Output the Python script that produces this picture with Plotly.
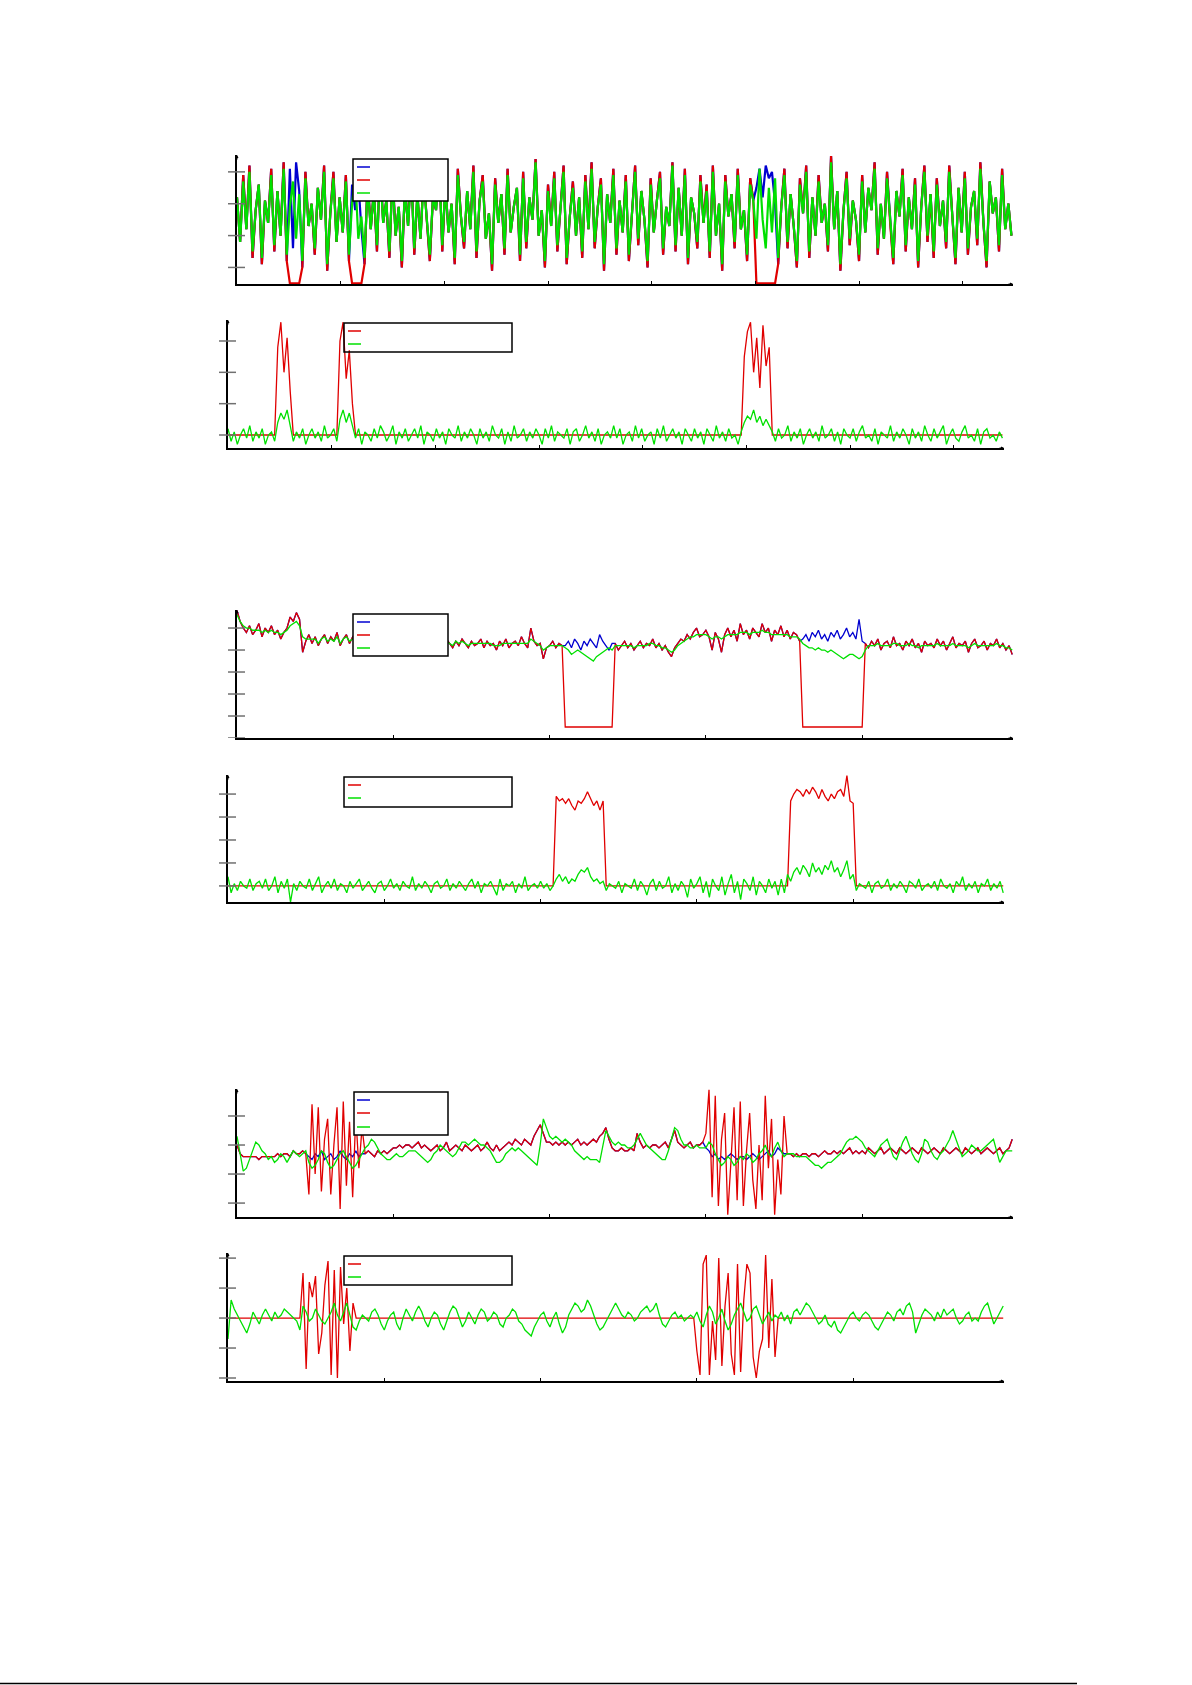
import plotly.graph_objects as go

W, H = 1192, 1685

# ---------------- data ----------------
# Panel 1 : three noisy estimates (blue / red / green), sample step 6
p1_blue = [22,8,29,12,32,3,18,26,1,21,14,31,5,24,10,33,2,31,6,33,24,0,30,13,20,
           4,25,15,32,-1,17,30,8,22,11,29,2,26,18,27,12,1,28,12,24,5,33,14,21,3,
           30,10,19,0,25,13,32,4,23,9,29,15,2,22,18,34,5,26,11,20,1,31,16,6,24,
           12,32,3,21,29,9,17,-1,28,14,23,4,31,11,19,25,2,30,6,22,15,34,10,18,0,
           26,13,30,5,20,32,1,16,27,10,22,3,29,12,33,6,19,28,-1,23,14,31,4,21,11,
           29,2,18,32,7,24,15,0,28,11,21,30,4,19,13,33,5,25,10,31,1,22,17,6,29,
           14,26,3,32,10,20,-1,29,16,23,6,31,12,18,2,28,21,25,31,22,32,28,30,20,1,
           19,31,6,23,13,0,28,17,32,3,22,10,29,14,20,5,35,12,24,-1,18,30,7,21,15,
           2,29,11,25,18,33,4,20,9,30,14,1,24,16,31,5,22,12,28,0,19,32,8,23,3,
           28,13,21,6,32,16,1,25,11,30,4,19,24,7,33,14,0,27,17,22,5,31,12,20,10]
p1_red = [22,8,29,12,32,3,18,26,1,21,14,31,5,24,10,33,2,-5,-5,-5,-5,0,30,13,20,
          4,25,15,32,-1,17,30,8,22,11,29,2,-5,-5,-5,-5,1,28,12,24,5,33,14,21,3,
          30,10,19,0,25,13,32,4,23,9,29,15,2,22,18,34,5,26,11,20,1,31,16,6,24,
          12,32,3,21,29,9,17,-1,28,14,23,4,31,11,19,25,2,30,6,22,15,34,10,18,0,
          26,13,30,5,20,32,1,16,27,10,22,3,29,12,33,6,19,28,-1,23,14,31,4,21,11,
          29,2,18,32,7,24,15,0,28,11,21,30,4,19,13,33,5,25,10,31,1,22,17,6,29,
          14,26,3,32,10,20,-1,29,16,23,6,31,12,18,2,28,21,-5,-5,-5,-5,-5,-5,-5,1,
          19,31,6,23,13,0,28,17,32,3,22,10,29,14,20,5,35,12,24,-1,18,30,7,21,15,
          2,29,11,25,18,33,4,20,9,30,14,1,24,16,31,5,22,12,28,0,19,32,8,23,3,
          28,13,21,6,32,16,1,25,11,30,4,19,24,7,33,14,0,27,17,22,5,31,12,20,10]
p1_green = [22,8,27,12,30,5,18,26,3,21,14,29,7,24,10,31,4,19,27,9,23,2,28,13,20,
            6,25,15,30,1,17,28,8,22,11,27,4,20,29,9,16,3,26,12,24,7,31,14,21,5,
            28,10,19,2,25,13,30,6,23,9,27,15,4,22,18,32,7,26,11,20,3,29,16,8,24,
            12,30,5,21,27,9,17,1,26,14,23,6,29,11,19,25,4,28,8,22,15,33,10,18,2,
            24,13,28,7,20,30,3,16,25,10,22,5,27,12,31,8,19,26,1,23,14,29,6,21,11,
            27,4,18,30,9,24,15,2,26,11,21,28,6,19,13,32,7,25,10,29,3,22,17,8,27,
            14,24,5,30,10,20,1,27,16,23,8,29,12,18,4,26,21,9,31,15,6,25,11,28,3,
            19,29,8,23,13,2,26,17,30,5,22,10,27,14,20,7,33,12,24,1,18,28,9,21,15,
            4,27,11,25,18,31,6,20,9,28,14,3,24,16,29,7,22,12,26,2,19,30,10,23,5,
            26,13,21,8,30,16,3,25,11,28,6,19,24,9,31,14,2,27,17,22,7,29,12,20,10]

# Panel 2 : two error curves (red / green), sample step 6
p2_red = [0,0,0,0,0,0,0,0,0,0,0,0,0,0,0,0,28,36,20,31,14,0,0,0,0,
          0,0,0,0,0,0,0,0,0,0,0,30,36,18,27,10,0,0,0,0,0,0,0,0,0,
          0,0,0,0,0,0,0,0,0,0,0,0,0,0,0,0,0,0,0,0,0,0,0,0,0,
          0,0,0,0,0,0,0,0,0,0,0,0,0,0,0,0,0,0,0,0,0,0,0,0,0,
          0,0,0,0,0,0,0,0,0,0,0,0,0,0,0,0,0,0,0,0,0,0,0,0,0,
          0,0,0,0,0,0,0,0,0,0,0,0,0,0,0,0,0,0,0,0,0,0,0,0,0,
          0,0,0,0,0,0,0,0,0,0,0,0,0,0,0,0,25,33,36,20,31,15,35,22,28,
          0,0,0,0,0,0,0,0,0,0,0,0,0,0,0,0,0,0,0,0,0,0,0,0,0,
          0,0,0,0,0,0,0,0,0,0,0,0,0,0,0,0,0,0,0,0,0,0,0,0,0,
          0,0,0,0,0,0,0,0,0,0,0,0,0,0,0,0,0,0,0,0,0,0,0,0,0]
p2_green = [2,-2,1,-3,0,2,-1,3,-2,1,-1,2,-3,0,1,-2,4,7,5,8,3,-2,1,-1,2,
            -3,0,2,-1,1,-2,3,-1,0,2,-2,5,8,4,7,3,-1,2,-3,1,0,-2,2,-1,3,
            1,-2,0,3,-3,1,-1,2,-2,0,2,-1,3,-3,1,0,-2,2,-1,1,-3,2,0,-1,3,
            -2,1,-1,2,0,-3,2,-1,1,-2,3,0,-1,2,-3,1,-2,3,-1,0,2,-2,1,-1,2,
            0,-3,2,-1,3,-2,1,0,-1,2,-3,1,2,-2,0,3,-1,1,-2,2,-3,0,1,-1,3,
            -1,2,-3,0,1,-2,3,-1,2,-2,0,1,-3,2,-1,3,-2,0,2,-1,1,-3,2,0,-2,
            2,-1,1,-3,2,0,-2,3,-1,1,-2,2,-1,0,-3,1,4,6,5,8,4,6,3,5,3,
            1,-2,2,-1,0,3,-2,1,-1,2,-3,0,2,-1,1,-2,3,-1,0,2,-2,1,-3,2,0,
            -1,2,-2,1,3,-1,0,-2,2,-3,1,0,-1,3,-2,1,-1,2,0,-3,2,-1,1,-2,3,
            0,-2,2,-1,1,3,-3,0,2,-1,-2,1,3,-1,0,-2,2,-3,1,2,-1,0,-2,1,-1]

# Panel 3 : three estimates, sample step 4
p3_blue = [58,53,50,48,51,47,49,52,46,50,48,51,47,49,45,48,50,55,53,57,54,39,44,47,43,
           46,42,45,47,43,46,44,48,42,45,47,43,46,44,45,43,47,44,46,42,45,44,47,43,45,
           44,46,42,45,43,47,44,42,46,43,45,44,41,46,43,44,42,45,43,41,44,42,45,43,41,
           44,42,43,45,41,44,42,43,40,44,42,45,41,43,44,42,46,43,41,50,44,42,43,36,41,
           42,44,41,43,42,42,44,41,45,43,40,44,42,45,43,41,47,44,42,40,43,43,40,42,44,
           41,43,40,42,44,41,43,42,45,41,43,40,42,39,37,41,43,45,44,47,45,48,50,46,47,
           49,46,40,48,45,39,47,50,46,49,44,52,47,49,45,50,48,46,52,48,50,44,49,47,51,
           46,49,45,48,47,44,45,47,44,48,46,49,45,47,44,48,46,49,45,47,50,46,48,45,54,
           44,43,41,44,42,45,40,43,44,41,46,42,43,40,44,42,45,41,43,39,44,42,43,41,45,
           42,44,40,43,46,41,43,42,44,39,43,45,41,42,44,40,43,42,45,41,43,40,42,38]
p3_red = [58,53,50,48,51,47,49,52,46,50,48,51,47,49,45,48,50,55,53,57,54,39,44,47,43,
          46,42,45,47,43,46,44,48,42,45,47,43,46,44,45,43,47,44,46,42,45,44,47,43,45,
          44,46,42,45,43,47,44,42,46,43,45,44,41,46,43,44,42,45,43,41,44,42,45,43,41,
          44,42,43,45,41,44,42,43,40,44,42,45,41,43,44,42,46,43,41,50,44,42,43,36,41,
          42,44,41,43,42,5,5,5,5,5,5,5,5,5,5,5,5,5,5,5,5,43,40,42,44,
          41,43,40,42,44,41,43,42,45,41,43,40,42,39,37,41,43,45,44,47,45,48,50,46,47,
          49,46,40,48,45,39,47,50,46,49,44,52,47,49,45,50,48,46,52,48,50,44,49,47,51,
          46,49,45,48,47,44,5,5,5,5,5,5,5,5,5,5,5,5,5,5,5,5,5,5,5,
          5,43,41,44,42,45,40,43,44,41,46,42,43,40,44,42,45,41,43,39,44,42,43,41,45,
          42,44,40,43,46,41,43,42,44,39,43,45,41,42,44,40,43,42,45,41,43,40,42,38]
p3_green = [56,53,51,50,50,49,49,49,48,49,48,49,48,48,47,48,49,51,52,53,51,46,45,45,45,
            45,43,45,46,44,45,44,46,43,45,46,44,45,44,45,44,46,44,45,43,45,44,46,44,45,
            45,45,43,44,44,46,44,43,45,44,44,44,42,45,43,44,43,44,43,42,44,43,44,43,42,
            43,43,43,43,43,43,43,42,42,42,43,43,43,43,43,43,43,43,43,45,44,43,42,40,41,
            42,42,42,42,42,41,40,38,39,40,39,38,37,36,35,37,38,39,40,41,40,42,42,42,42,
            42,42,41,42,42,42,42,43,43,42,42,41,41,40,39,40,42,43,44,45,46,46,47,47,47,
            47,46,45,46,46,45,46,47,47,47,47,48,48,48,47,48,48,48,49,48,48,47,47,47,47,
            47,47,46,46,46,45,43,42,41,41,40,41,40,40,39,40,39,38,37,36,37,38,38,37,36,
            37,40,42,42,42,43,42,42,42,42,43,43,42,42,42,43,42,42,41,42,42,42,42,42,43,
            42,42,42,42,43,42,42,42,42,41,42,43,42,42,42,42,42,42,43,42,42,41,41,40]

# Panel 4 : two error curves, sample step 4
p4_red = [0,0,0,0,0,0,0,0,0,0,0,0,0,0,0,0,0,0,0,0,0,0,0,0,0,
          0,0,0,0,0,0,0,0,0,0,0,0,0,0,0,0,0,0,0,0,0,0,0,0,0,
          0,0,0,0,0,0,0,0,0,0,0,0,0,0,0,0,0,0,0,0,0,0,0,0,0,
          0,0,0,0,0,0,0,0,0,0,0,0,0,0,0,0,0,0,0,0,0,0,0,0,0,
          0,0,0,0,0,39,37,38,36,38,35,33,37,36,38,41,38,35,37,33,37,0,0,0,0,
          0,0,0,0,0,0,0,0,0,0,0,0,0,0,0,0,0,0,0,0,0,0,0,0,0,
          0,0,0,0,0,0,0,0,0,0,0,0,0,0,0,0,0,0,0,0,0,0,0,0,0,
          0,0,0,0,0,37,40,42,41,39,42,40,43,41,38,42,39,37,40,38,41,42,39,48,37,
          36,0,0,0,0,0,0,0,0,0,0,0,0,0,0,0,0,0,0,0,0,0,0,0,0,
          0,0,0,0,0,0,0,0,0,0,0,0,0,0,0,0,0,0,0,0,0,0,0,0]
p4_green = [4,-3,1,-2,2,0,-1,3,-2,1,2,-1,3,-2,0,4,-3,2,-1,3,-7,1,-2,2,0,
            -1,3,-2,1,4,-3,0,2,-1,3,-2,1,0,-3,2,-1,1,3,-2,0,2,-1,-3,1,2,
            -2,0,3,-1,1,-2,2,0,-1,4,-2,1,-1,2,0,-3,1,2,-1,0,3,-2,1,-1,2,
            0,-2,1,3,-1,2,-3,1,0,2,-1,-4,3,-2,1,0,2,-3,1,-1,4,-2,0,1,-1,
            2,-1,1,-2,0,3,5,2,4,1,3,2,5,7,6,8,4,2,3,1,2,-2,1,0,-1,
            2,-3,1,0,-1,3,-2,2,0,-4,1,3,-2,2,-1,0,4,-3,1,-2,2,0,-5,3,-1,
            1,4,-3,2,-5,3,0,-2,4,-4,1,5,-3,2,-6,3,1,-2,4,-4,2,0,-3,3,-1,
            2,-4,3,-3,5,2,6,8,5,9,7,4,10,6,8,5,9,7,11,6,8,4,7,11,3,
            5,-2,1,0,-1,2,-3,1,2,-1,0,3,-2,1,-1,2,0,-3,2,1,-1,3,-2,0,1,
            -1,2,-2,3,0,-1,1,-3,2,0,4,-2,1,-1,2,-3,1,0,3,-2,1,-1,2,-3]

# Panel 5 : three estimates, sample step 4
p5_blue = [20,17,16,16,16,16,16,15,16,16,16,16,16,17,16,17,17,16,18,17,17,18,17,16,15,
           17,16,18,15,16,17,15,16,18,16,15,17,16,18,16,17,17,18,17,16,18,17,18,17,18,
           19,19,20,19,20,20,19,20,21,19,20,19,18,19,20,18,19,21,18,19,20,19,18,20,19,
           18,19,20,18,19,21,19,18,20,18,19,20,21,20,22,21,20,22,21,20,23,25,27,24,21,
           21,20,21,20,21,20,21,20,21,22,20,21,20,21,22,21,23,24,26,22,19,18,18,19,18,
           18,19,18,24,21,19,20,19,20,20,19,20,21,19,22,25,21,20,19,20,21,19,20,20,21,
           19,18,16,17,15,16,15,16,17,16,15,16,16,15,16,17,16,15,16,17,18,16,17,19,18,
           17,17,17,16,17,16,17,17,16,17,17,16,17,18,17,17,18,17,18,17,18,19,17,18,17,
           18,17,19,18,17,18,19,17,18,19,18,17,19,18,17,18,19,18,17,19,18,17,18,19,18,
           17,19,18,17,18,19,18,17,19,18,17,18,19,17,18,19,18,17,18,19,17,18,19,22]
p5_red = [20,17,16,16,16,16,16,15,16,16,16,16,16,17,16,17,17,16,18,17,17,18,17,3,34,
          10,33,4,22,29,3,20,33,-2,35,6,28,2,30,12,26,17,18,17,16,18,17,18,17,18,
          19,19,20,19,20,20,19,20,21,19,20,19,18,19,20,18,19,21,18,19,20,19,18,20,19,
          18,19,20,18,19,21,19,18,20,18,19,20,21,20,22,21,20,22,21,20,23,25,27,24,21,
          21,20,21,20,21,20,21,20,21,22,20,21,20,21,22,21,23,24,26,22,19,18,18,19,18,
          18,19,18,24,21,19,20,19,20,20,19,20,21,19,22,25,21,20,19,20,21,19,20,20,21,
          24,39,2,37,-1,22,31,-4,14,33,1,35,-1,18,31,8,-2,20,1,37,12,29,-4,15,3,
          30,17,17,16,17,16,17,17,16,17,17,16,17,18,17,17,18,17,18,17,18,19,17,18,17,
          18,17,19,18,17,18,19,17,18,19,18,17,19,18,17,18,19,18,17,19,18,17,18,19,18,
          17,19,18,17,18,19,18,17,19,18,17,18,19,17,18,19,18,17,18,19,17,18,19,22]
p5_green = [23,17,11,12,15,18,21,20,18,17,15,16,14,15,17,16,14,16,18,17,16,17,18,14,12,
            13,15,18,17,14,12,13,15,17,18,16,14,12,13,15,17,19,20,22,21,19,17,16,15,15,
            16,17,16,16,17,18,18,18,17,16,15,14,15,17,18,20,19,18,17,16,17,19,21,21,20,
            21,22,21,20,20,19,18,16,14,14,15,17,18,19,18,19,18,17,16,15,14,13,20,29,26,
            23,22,23,22,21,22,21,20,18,17,16,15,16,15,15,15,14,20,25,23,21,20,21,20,20,
            19,19,20,22,24,22,20,19,18,17,16,15,15,18,22,26,25,22,20,20,19,19,20,19,19,
            19,21,20,17,15,13,14,16,15,13,14,16,15,17,16,14,15,17,18,20,17,16,19,21,18,
            16,17,17,17,16,16,16,16,15,14,13,13,12,13,14,14,15,16,17,19,21,22,22,23,22,
            21,19,18,17,16,18,20,21,22,19,16,15,18,21,23,20,17,15,14,17,22,21,18,16,15,
            17,18,20,22,25,22,19,16,17,18,20,19,18,18,19,20,21,22,18,14,16,18,18,18]

# Panel 6 : two error curves, sample step 4
p6_red = [0,0,0,0,0,0,0,0,0,0,0,0,0,0,0,0,0,0,0,0,0,0,0,0,15,
          -17,12,7,14,-12,-5,11,19,-19,16,-20,17,-2,10,-11,5,0,0,0,0,0,0,0,0,0,
          0,0,0,0,0,0,0,0,0,0,0,0,0,0,0,0,0,0,0,0,0,0,0,0,0,
          0,0,0,0,0,0,0,0,0,0,0,0,0,0,0,0,0,0,0,0,0,0,0,0,0,
          0,0,0,0,0,0,0,0,0,0,0,0,0,0,0,0,0,0,0,0,0,0,0,0,0,
          0,0,0,0,0,0,0,0,0,0,0,0,0,0,0,0,0,0,0,0,0,0,0,0,0,
          -11,-19,18,21,-19,-1,-14,20,-16,4,15,-12,-19,18,-18,6,18,15,-13,-20,-11,-7,21,-10,13,
          -13,0,0,0,0,0,0,0,0,0,0,0,0,0,0,0,0,0,0,0,0,0,0,0,0,
          0,0,0,0,0,0,0,0,0,0,0,0,0,0,0,0,0,0,0,0,0,0,0,0,0,
          0,0,0,0,0,0,0,0,0,0,0,0,0,0,0,0,0,0,0,0,0,0,0,0]
p6_green = [-7,6,3,1,-1,-3,-5,-2,2,0,-2,1,3,1,-1,2,0,1,3,2,1,0,-1,-4,4,
            2,-1,0,3,1,-1,-2,0,2,5,1,-1,2,5,1,-3,-4,-1,1,0,-1,2,3,1,-2,
            -4,-1,1,2,-2,-4,0,3,1,-1,2,4,2,-1,-3,0,2,1,-2,-4,-1,2,4,3,0,
            -3,-1,2,0,-2,1,3,2,-1,0,2,1,-2,-3,0,1,3,2,-1,-2,-4,-5,-6,-3,-1,
            1,2,-1,-3,0,2,-2,-5,-3,1,3,5,4,2,3,6,4,1,-2,-4,-3,-1,1,3,5,
            3,1,0,2,1,-1,0,2,3,4,2,3,5,1,-2,-3,-1,1,2,0,1,-1,0,1,0,
            2,-1,-3,1,4,2,-2,0,3,-1,-4,-2,1,3,5,2,-1,0,3,4,1,-2,0,2,-1,
            1,0,2,-1,1,-2,2,3,1,3,5,4,2,0,-2,-1,1,-2,-3,-1,-4,-5,-3,-1,1,
            2,0,-1,1,2,1,-1,-3,-4,-2,0,2,1,-1,2,3,1,4,5,2,-5,-2,1,3,2,
            1,-1,2,0,3,1,2,3,0,-2,-1,1,2,-1,0,-1,2,4,5,1,-2,0,2,4]

# y tick values per panel
p1_yticks = [0, 10, 20, 30]
p2_yticks = [0, 10, 20, 30]
p3_yticks = [0, 10, 20, 30, 40, 50]
p4_yticks = [0, 10, 20, 30, 40]
p5_yticks = [0, 10, 20, 30]
p6_yticks = [-20, -10, 0, 10, 20]

BLUE, RED, GREEN = "#0000d0", "#e00000", "#00e000"

# ---------------- layout spec (pixels on the page) ----------------
panels = [
    dict(series=[(p1_blue, BLUE), (p1_red, RED), (p1_green, GREEN)], step=6, lw=2.2,
         xr=[0, 1497], yr=[-5.2, 35.3], yt=p1_yticks, frame=(237, 1013, 155, 284),
         box=(353, 448, 159, 201), items=[(167, BLUE), (180, RED), (193, GREEN)], lx=(357, 370), fill=True),
    dict(series=[(p2_red, RED), (p2_green, GREEN)], step=6, lw=1.3,
         xr=[0, 1497], yr=[-4.15, 36.7], yt=p2_yticks, frame=(228, 1004, 320, 448),
         box=(344, 512, 323, 352), items=[(331, RED), (344, GREEN)], lx=(348, 361), fill=False),
    dict(series=[(p3_blue, BLUE), (p3_red, RED), (p3_green, GREEN)], step=4, lw=1.3,
         xr=[0, 993], yr=[0, 58.2], yt=p3_yticks, frame=(237, 1013, 610, 738),
         box=(353, 448, 614, 656), items=[(622, BLUE), (635, RED), (648, GREEN)], lx=(357, 370), fill=True),
    dict(series=[(p4_red, RED), (p4_green, GREEN)], step=4, lw=1.3,
         xr=[0, 993], yr=[-7, 48.3], yt=p4_yticks, frame=(228, 1004, 775, 902),
         box=(344, 512, 777, 807), items=[(785, RED), (798, GREEN)], lx=(348, 361), fill=False),
    dict(series=[(p5_blue, BLUE), (p5_red, RED), (p5_green, GREEN)], step=4, lw=1.3,
         xr=[0, 993], yr=[-4.8, 39.3], yt=p5_yticks, frame=(237, 1013, 1089, 1217),
         box=(354, 448, 1092, 1135), items=[(1100, BLUE), (1113, RED), (1127, GREEN)], lx=(357, 370), fill=True),
    dict(series=[(p6_red, RED), (p6_green, GREEN)], step=4, lw=1.3,
         xr=[0, 993], yr=[-21, 21.7], yt=p6_yticks, frame=(228, 1004, 1253, 1381),
         box=(344, 512, 1256, 1285), items=[(1264, RED), (1277, GREEN)], lx=(348, 361), fill=False),
]

def px(x):
    return x / W

def py(y):
    return 1 - y / H

fig = go.Figure()
shapes = []
annotations = []
layout_axes = {}

for k, p in enumerate(panels, start=1):
    sx = "" if k == 1 else str(k)
    xname, yname = "x" + sx, "y" + sx
    x0, x1, y0, y1 = p["frame"]
    for vals, col in p["series"]:
        xs = [i * p["step"] for i in range(len(vals))]
        fig.add_trace(go.Scatter(x=xs, y=vals, mode="lines", xaxis=xname, yaxis=yname,
                                 line=dict(color=col, width=p["lw"]), hoverinfo="skip",
                                 showlegend=False))
    layout_axes["xaxis" + sx] = dict(domain=[px(x0), px(x1)], range=p["xr"], anchor=yname,
                                     showgrid=False, zeroline=False, showline=True,
                                     linecolor="black", linewidth=1.5, showticklabels=False,
                                     ticks="inside", ticklen=3, tickwidth=1, tickcolor="black",
                                     tick0=0, dtick=200)
    layout_axes["yaxis" + sx] = dict(domain=[py(y1), py(y0)], range=p["yr"], anchor=xname,
                                     showgrid=False, zeroline=False, showline=True,
                                     linecolor="black", linewidth=1.5, showticklabels=False,
                                     ticks="")
    wpx = x1 - x0
    for v in p["yt"]:
        shapes.append(dict(type="line", xref=xname + " domain", yref=yname,
                           x0=-9 / wpx, x1=8 / wpx, y0=v, y1=v,
                           line=dict(color="#707070", width=1.5), layer="above"))
    # axis arrow heads
    annotations.append(dict(xref=xname + " domain", yref=yname + " domain", x=1.0, y=0,
                            ax=-6, ay=0, text="", showarrow=True, arrowhead=2,
                            arrowsize=0.6, arrowwidth=1, arrowcolor="black"))
    annotations.append(dict(xref=xname + " domain", yref=yname + " domain", x=0, y=1.0,
                            ax=0, ay=6, text="", showarrow=True, arrowhead=2,
                            arrowsize=0.6, arrowwidth=1, arrowcolor="black"))
    # legend box
    bx0, bx1, by0, by1 = p["box"]
    shapes.append(dict(type="rect", xref="paper", yref="paper",
                       x0=px(bx0), x1=px(bx1), y0=py(by1), y1=py(by0),
                       line=dict(color="black", width=1.5),
                       fillcolor="white" if p["fill"] else "rgba(0,0,0,0)", layer="above"))
    for yy, col in p["items"]:
        shapes.append(dict(type="line", xref="paper", yref="paper",
                           x0=px(p["lx"][0]), x1=px(p["lx"][1]), y0=py(yy), y1=py(yy),
                           line=dict(color=col, width=1.5), layer="above"))

# page bottom rule
shapes.append(dict(type="line", xref="paper", yref="paper", x0=0, x1=px(1077),
                   y0=py(1683.5), y1=py(1683.5), line=dict(color="black", width=1.5)))

fig.update_layout(width=W, height=H, margin=dict(l=0, r=0, t=0, b=0),
                  paper_bgcolor="white", plot_bgcolor="white", showlegend=False,
                  shapes=shapes, annotations=annotations, **layout_axes)

fig.write_html("out.html", config={"displayModeBar": False},
               post_script="document.body.style.margin='0';document.body.style.overflow='hidden';")
